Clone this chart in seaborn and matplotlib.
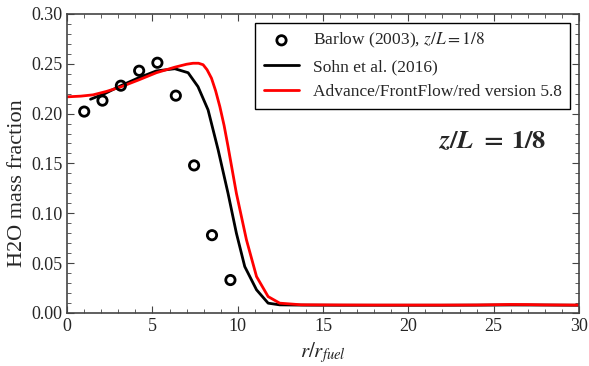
import numpy as np
import pandas as pd
import matplotlib
matplotlib.use("Agg")
import matplotlib.pyplot as plt
from matplotlib.ticker import MultipleLocator
import seaborn as sns

# Barlow (2003) measurements
barlow_r = [1.0, 2.07, 3.15, 4.22, 5.29, 6.37, 7.44, 8.49, 9.57]
barlow_h2o = [0.202, 0.213, 0.228, 0.243, 0.251, 0.218, 0.148, 0.078, 0.033]

# Sohn et al. (2016)
sohn_r = [1.37, 2.2, 3.15, 4.2, 5.23, 6.31, 7.09, 7.67, 8.26, 8.85, 9.43, 9.92,
          10.41, 11.1, 11.78, 12.46, 14.0, 16.0, 18.0, 20.0, 22.0, 24.0, 26.0, 28.0, 30.0]
sohn_h2o = [0.2144, 0.220, 0.228, 0.236, 0.2428, 0.245, 0.241, 0.227, 0.2037, 0.1636,
            0.120, 0.080, 0.0465, 0.0232, 0.0098, 0.0081, 0.0078, 0.0077, 0.0077,
            0.0077, 0.0077, 0.0078, 0.0080, 0.0079, 0.0077]

# Advance/FrontFlow/red version 5.8
ffr_r = [0.0, 0.8, 1.52, 2.3, 3.1, 4.2, 5.23, 6.3, 7.0, 7.38, 7.7, 7.97, 8.2, 8.46,
         8.7, 8.95, 9.2, 9.43, 9.92, 10.51, 11.1, 11.78, 12.46, 13.7, 16.0, 18.0,
         20.0, 22.0, 24.0, 26.0, 27.0, 28.0, 30.0]
ffr_h2o = [0.2168, 0.2175, 0.2188, 0.2222, 0.2265, 0.2338, 0.241, 0.2465, 0.2495,
           0.2505, 0.2505, 0.249, 0.244, 0.2355, 0.223, 0.207, 0.188, 0.167, 0.120,
           0.0733, 0.0365, 0.0164, 0.0098, 0.0082, 0.0080, 0.0079, 0.0079, 0.0079,
           0.0080, 0.0085, 0.0084, 0.0081, 0.0079]

sns.set_style("ticks")
plt.rcParams['font.family'] = ['Liberation Serif', 'DejaVu Serif']
plt.rcParams['mathtext.fontset'] = 'stix'
plt.rcParams['xtick.direction'] = 'in'
plt.rcParams['ytick.direction'] = 'in'

fig = plt.figure(figsize=(5.89, 3.66), dpi=100)
ax = fig.add_axes([0.114, 0.145, 0.869, 0.817])

barlow = pd.DataFrame({'r': barlow_r, 'h2o': barlow_h2o})
sohn = pd.DataFrame({'r': sohn_r, 'h2o': sohn_h2o})
ffr = pd.DataFrame({'r': ffr_r, 'h2o': ffr_h2o})

sns.scatterplot(data=barlow, x='r', y='h2o', ax=ax, marker='o', s=45,
                facecolor='none', edgecolor='black', linewidth=2,
                label=r'Barlow (2003), $z/L = 1/8$', zorder=3)
sns.lineplot(data=sohn, x='r', y='h2o', ax=ax, color='black', linewidth=2,
             label='Sohn et al. (2016)')
sns.lineplot(data=ffr, x='r', y='h2o', ax=ax, color='red', linewidth=2,
             label='Advance/FrontFlow/red version 5.8')

ax.set_xlim(0, 30)
ax.set_ylim(0, 0.30)
ax.xaxis.set_major_locator(MultipleLocator(5))
ax.xaxis.set_minor_locator(MultipleLocator(1))
ax.yaxis.set_major_locator(MultipleLocator(0.05))
ax.yaxis.set_minor_locator(MultipleLocator(0.01))
ax.yaxis.set_major_formatter(plt.FormatStrFormatter('%.2f'))
ax.tick_params(which='both', top=True, right=True, labelsize=13, color='#444444')
ax.tick_params(which='major', length=5)
ax.tick_params(which='minor', length=3)
for s in ax.spines.values():
    s.set_color('#444444')
    s.set_linewidth(1.2)

ax.set_xlabel(r'$r/r_{fuel}$', fontsize=15)
ax.set_ylabel('H2O mass fraction', fontsize=16)
ax.yaxis.set_label_coords(-0.078, 0.435)

ax.legend(loc='upper right', fontsize=12.5, frameon=True, fancybox=False,
          edgecolor='black', framealpha=1, handlelength=2.0,
          borderaxespad=0.5, labelspacing=0.5, borderpad=0.5)

ax.text(24.9, 0.172, r'$\boldsymbol{z/L\ =\ 1/8}$', fontsize=19,
        ha='center', va='center')

fig.savefig('out.png', dpi=100)
